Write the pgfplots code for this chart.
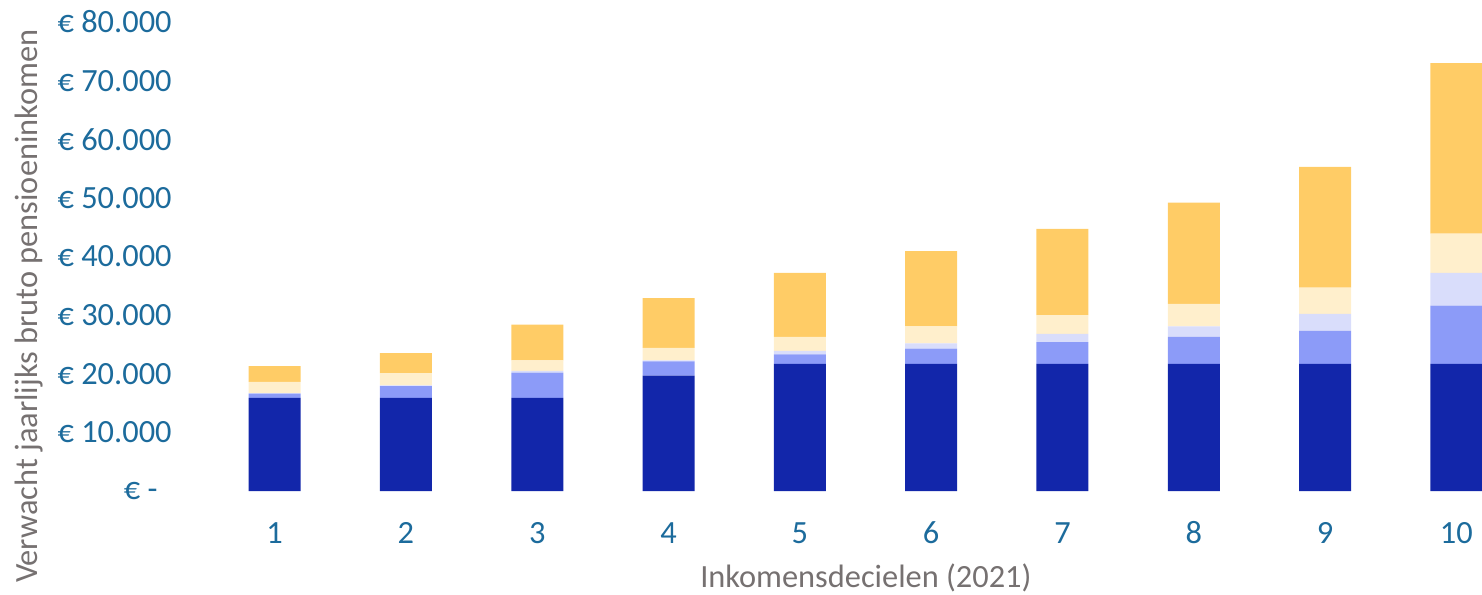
\documentclass[border=0pt]{standalone}
\usepackage{fontspec}
\setmainfont{Carlito}
\usepackage{pgfplots}
\pgfplotsset{compat=1.18}
\usepackage{pgfplotstable}

\definecolor{cDark}{HTML}{1226AA}
\definecolor{cMid}{HTML}{8C9BF8}
\definecolor{cLav}{HTML}{D9DDFB}
\definecolor{cCream}{HTML}{FFEFCC}
\definecolor{cOrange}{HTML}{FFCC66}
\definecolor{tickblue}{HTML}{1C6B9C}
\definecolor{labgray}{HTML}{767171}

% deciel, vijf lagen (euro per jaar)
\pgfplotstableread{
x dark mid lav cream orange
1 15900 700 100 1900 2700
2 15900 2000 100 2100 3400
3 15900 4300 300 1800 6100
4 19700 2400 200 2100 8500
5 21700 1600 600 2400 10900
6 21700 2600 900 2900 12800
7 21700 3700 1400 3200 14700
8 21700 4600 1800 3800 17300
9 21700 5600 2900 4500 20600
10 21700 9900 5600 6700 29100
}\pensioen

\begin{document}
\begin{tikzpicture}
\begin{axis}[
  at={(0pt,0pt)}, anchor=origin,
  scale only axis, width=636.5pt, height=234.5pt,
  ybar stacked, bar width=26pt,
  xmin=0.5, xmax=10.195, ymin=0, ymax=80000,
  axis line style={draw=none}, major tick length=0pt,
  scaled y ticks=false,
  xtick={1,...,10},
  xticklabels={1,2,3,4,5,6,7,8,9,10},
  ytick={0,10000,...,80000},
  yticklabels={€ -\kern7pt,€ 10.000,€ 20.000,€ 30.000,€ 40.000,€ 50.000,€ 60.000,€ 70.000,€ 80.000},
  ticklabel style={font=\fontsize{16.2}{19}\selectfont, text=tickblue},
  yticklabel style={anchor=east, inner sep=0pt, xshift=-18.5pt},
  xticklabel style={anchor=center, inner sep=0pt, yshift=-21pt},
  xlabel={Inkomensdecielen (2021)},
  ylabel={Verwacht jaarlijks bruto pensioeninkomen},
  label style={font=\fontsize{16.2}{19}\selectfont, text=labgray},
  xlabel style={at={(axis description cs:0.516,-0.1855)}, anchor=center},
  ylabel style={at={(axis description cs:-0.141,0.394)}, anchor=center},
  clip=false,
]
\addplot[fill=cDark, draw=none] table[x=x, y=dark] {\pensioen};
\addplot[fill=cMid, draw=none] table[x=x, y=mid] {\pensioen};
\addplot[fill=cLav, draw=none] table[x=x, y=lav] {\pensioen};
\addplot[fill=cCream, draw=none] table[x=x, y=cream] {\pensioen};
\addplot[fill=cOrange, draw=none] table[x=x, y=orange] {\pensioen};
\end{axis}
\pgfresetboundingbox
\path (-104.5pt,-51.5pt) rectangle (636.5pt,245.5pt);
\end{tikzpicture}
\end{document}
